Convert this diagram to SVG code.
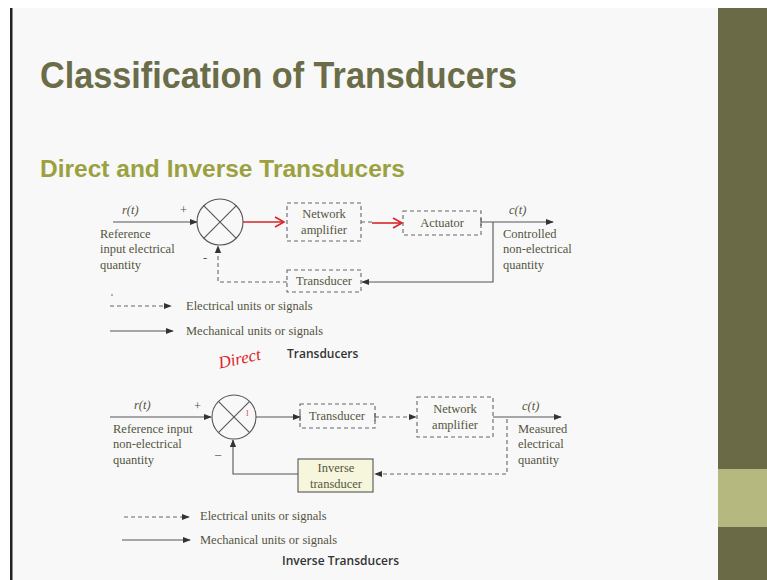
<svg xmlns="http://www.w3.org/2000/svg" width="767" height="580" viewBox="0 0 767 580">
<defs>
<style>
.t{font-family:"Liberation Serif",serif;font-size:12.5px;fill:#55553f}
.ti{font-family:"Liberation Serif",serif;font-size:12.5px;font-style:italic;fill:#55553f}
.c{text-anchor:middle}
.ln{stroke:#555;stroke-width:1.1;fill:none}
.ds{stroke:#666;stroke-width:1.1;fill:none;stroke-dasharray:4 3}
.bx{stroke:#666;stroke-width:1.1;fill:none;stroke-dasharray:4 3}
.red{stroke:#d8262a;stroke-width:1.6;fill:none}
.lbl{font-family:"Open Sans","Liberation Sans",sans-serif;font-size:12px;font-weight:600;fill:#333}
</style>
<marker id="ah" viewBox="0 0 10 10" refX="9" refY="5" markerWidth="8" markerHeight="8" markerUnits="userSpaceOnUse" orient="auto">
<path d="M0,1 L10,5 L0,9 Z" fill="#333"/>
</marker>
<marker id="rh" viewBox="0 0 12 12" refX="10" refY="6" markerWidth="12" markerHeight="12" markerUnits="userSpaceOnUse" orient="auto">
<path d="M1,1 L10,6 L1,11" fill="none" stroke="#d8262a" stroke-width="1.6"/>
</marker>
</defs>
<rect x="0" y="0" width="767" height="580" fill="#ffffff"/>
<rect x="12" y="8" width="706" height="572" fill="#f8f8f8"/>
<rect x="10" y="8" width="2.5" height="572" fill="#222"/>
<rect x="718" y="8" width="49" height="572" fill="#6a6a46"/>
<rect x="718" y="469" width="49" height="58" fill="#b5b97f"/>
<text x="40" y="88" font-family="Liberation Sans,sans-serif" font-weight="bold" font-size="37" fill="#6b6c48" textLength="477" lengthAdjust="spacingAndGlyphs">Classification of Transducers</text>
<text x="40" y="177" font-family="Liberation Sans,sans-serif" font-weight="bold" font-size="24" fill="#9ba13f" textLength="365" lengthAdjust="spacingAndGlyphs">Direct and Inverse Transducers</text>

<g id="connectors">
<!-- direct -->
<line class="ln" x1="113" y1="222" x2="197" y2="222" marker-end="url(#ah)"/>
<line class="red" x1="243" y1="222" x2="284" y2="222" marker-end="url(#rh)"/>
<line class="ds" x1="361" y1="222" x2="372" y2="222"/>
<line class="red" x1="372" y1="223" x2="402" y2="223" marker-end="url(#rh)"/>
<line class="ln" x1="481" y1="222" x2="553" y2="222" marker-end="url(#ah)"/>
<line class="ln" x1="481" y1="218" x2="481" y2="226"/>
<polyline class="ln" points="493,222 493,282 362,282" marker-end="url(#ah)"/>
<polyline class="ds" points="287,282 218,282 218,246" marker-end="url(#ah)"/>
<!-- inverse -->
<line class="ln" x1="110" y1="417" x2="211" y2="417" marker-end="url(#ah)"/>
<line class="ln" x1="256" y1="417" x2="300" y2="417" marker-end="url(#ah)"/>
<line class="ln" x1="300" y1="413" x2="300" y2="421"/>
<line class="ds" x1="375" y1="417" x2="416" y2="417" marker-end="url(#ah)"/>
<line class="ln" x1="375" y1="413" x2="375" y2="421"/>
<line class="ln" x1="493" y1="417" x2="561" y2="417" marker-end="url(#ah)"/>
<polyline class="ds" points="507,419 507,474 375,474" marker-end="url(#ah)"/>
<polyline class="ln" points="298,474 233,474 233,440" marker-end="url(#ah)"/>
<!-- legends -->
<line class="ds" x1="110" y1="306" x2="171" y2="306" marker-end="url(#ah)"/>
<line class="ln" x1="110" y1="331" x2="173" y2="331" marker-end="url(#ah)"/>
<line class="ds" x1="124" y1="517" x2="189" y2="517" marker-end="url(#ah)"/>
<line class="ln" x1="122" y1="540" x2="190" y2="540" marker-end="url(#ah)"/>
</g>

<g id="sum1">
<circle cx="220" cy="222" r="23" class="ln" fill="none"/>
<line class="ln" x1="203.7" y1="205.7" x2="236.3" y2="238.3"/>
<line class="ln" x1="236.3" y1="205.7" x2="203.7" y2="238.3"/>
</g>
<g id="netamp1">
<rect class="bx" x="287" y="203" width="74" height="38"/>
<text class="t c" x="324" y="218">Network</text>
<text class="t c" x="324" y="234">amplifier</text>
</g>
<g id="actuator">
<rect class="bx" x="403" y="211" width="78" height="24"/>
<text class="t c" x="442" y="227">Actuator</text>
</g>
<g id="transducer1">
<rect class="bx" x="287" y="270" width="74" height="22"/>
<text class="t c" x="324" y="285">Transducer</text>
</g>
<g id="labels1">
<text class="ti" x="122" y="214">r(t)</text>
<text class="t" x="180" y="214">+</text>
<text class="t" x="203" y="262">-</text>
<text class="t" x="100" y="238">Reference</text>
<text class="t" x="100" y="253">input electrical</text>
<text class="t" x="100" y="269">quantity</text>
<text class="ti" x="509" y="214">c(t)</text>
<text class="t" x="503" y="238">Controlled</text>
<text class="t" x="503" y="253">non-electrical</text>
<text class="t" x="503" y="269">quantity</text>
<text class="t" x="186" y="310">Electrical units or signals</text>
<text class="t" x="186" y="335">Mechanical units or signals</text>
<circle cx="112" cy="295" r="0.8" fill="#d8262a"/>
<text x="218" y="364" font-family="Liberation Serif,serif" font-style="italic" font-size="17" fill="#d8262a" transform="rotate(-12 240 358)">Direct</text>
<text class="lbl" x="287" y="358">Transducers</text>
</g>

<g id="sum2">
<circle cx="234" cy="417" r="22" class="ln" fill="none"/>
<line class="ln" x1="218.4" y1="401.4" x2="249.6" y2="432.6"/>
<line class="ln" x1="249.6" y1="401.4" x2="218.4" y2="432.6"/>
<text x="246" y="416" font-family="Liberation Serif,serif" font-size="8" fill="#e05050">I</text>
</g>
<g id="transducer2">
<rect class="bx" x="300" y="404" width="75" height="24"/>
<text class="t c" x="337" y="420">Transducer</text>
</g>
<g id="netamp2">
<rect class="bx" x="417" y="397" width="76" height="40"/>
<text class="t c" x="455" y="413">Network</text>
<text class="t c" x="455" y="429">amplifier</text>
</g>
<g id="invtransducer">
<rect x="298" y="459" width="75" height="33" fill="#f6f6dc" stroke="#555" stroke-width="1.1"/>
<text class="t c" x="336" y="472">Inverse</text>
<text class="t c" x="336" y="488">transducer</text>
</g>
<g id="labels2">
<text class="ti" x="134" y="409">r(t)</text>
<text class="t" x="194" y="410">+</text>
<text class="t" x="215" y="458">–</text>
<text class="t" x="113" y="433">Reference input</text>
<text class="t" x="113" y="448">non-electrical</text>
<text class="t" x="113" y="464">quantity</text>
<text class="ti" x="522" y="410">c(t)</text>
<text class="t" x="518" y="433">Measured</text>
<text class="t" x="518" y="448">electrical</text>
<text class="t" x="518" y="464">quantity</text>
<text class="t" x="200" y="520">Electrical units or signals</text>
<text class="t" x="200" y="544">Mechanical units or signals</text>
<text class="lbl" x="282" y="565">Inverse Transducers</text>
</g>
</svg>
